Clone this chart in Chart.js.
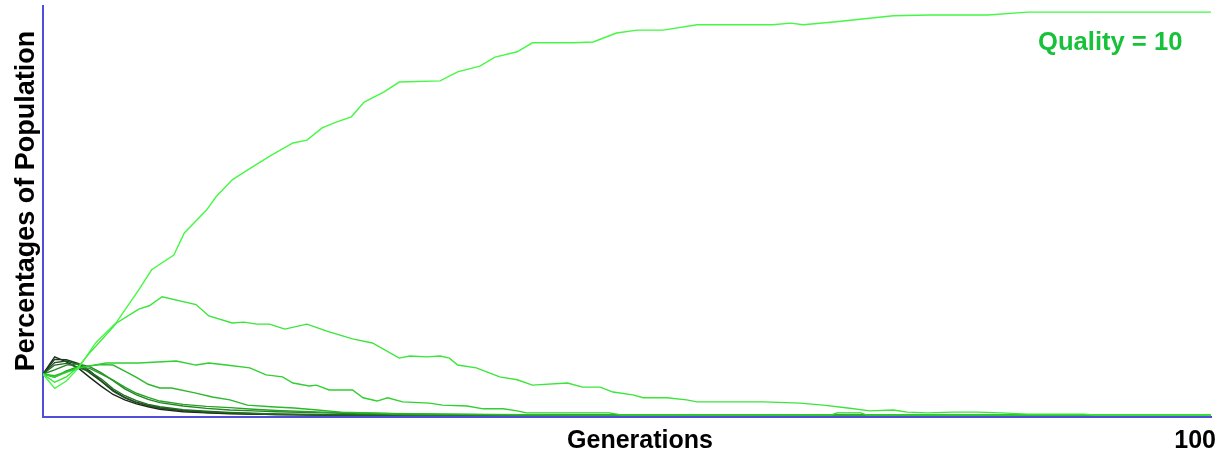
<!DOCTYPE html>
<html>
<head>
<meta charset="utf-8">
<title>Quality = 10</title>
<script src="https://cdn.jsdelivr.net/npm/chart.js@4/dist/chart.umd.min.js"></script>
<style>
  html, body { margin: 0; padding: 0; background: #fff; }
  #wrap { width: 1223px; height: 455px; position: relative; }
</style>
</head>
<body>
<div id="wrap"><canvas id="popChart"></canvas></div>
<script>
// === DATA (percent of population per quality, by generation) ===
const q1Gens = [0, 1, 2, 3, 4, 5, 6, 7, 8, 9, 10, 12, 14, 16, 18, 20, 24, 100];
const q1Vals = [10, 14.2, 13, 11.5, 9.2, 7, 5, 3.7, 2.7, 2, 1.4, 0.8, 0.5, 0.3, 0.2, 0.1, 0, 0];
const q2Gens = [0, 1, 2, 3, 4, 5, 6, 7, 8, 9, 10, 12, 14, 16, 18, 20, 25, 100];
const q2Vals = [10, 13.6, 13.5, 12.6, 10.8, 8.3, 6, 4.3, 3.1, 2.3, 1.7, 1.0, 0.6, 0.4, 0.2, 0.1, 0, 0];
const q3Gens = [0, 1, 2, 3, 4, 5, 6, 7, 8, 9, 10, 12, 14, 16, 18, 20, 26, 100];
const q3Vals = [10, 12.8, 13.2, 12.3, 10.3, 8.2, 5.8, 4.2, 3.0, 2.3, 1.7, 1.1, 0.7, 0.5, 0.3, 0.2, 0, 0];
const q4Gens = [0, 1, 2, 3, 4, 5, 6, 7, 8, 9, 10, 12, 14, 16, 18, 20, 28, 100];
const q4Vals = [10, 12.2, 12.6, 11.6, 10.6, 8.8, 6.4, 4.7, 3.5, 2.6, 2.0, 1.3, 0.9, 0.6, 0.4, 0.2, 0, 0];
const q5Gens = [0, 1, 2, 3, 4, 5, 6, 7, 8, 9, 10, 12, 14, 16, 18, 20, 24, 28, 32, 100];
const q5Vals = [10, 11, 12.2, 12.5, 11.8, 10.3, 8.4, 6.4, 4.9, 3.8, 3.0, 2.2, 1.6, 1.2, 1.0, 0.8, 0.5, 0.2, 0, 0];
const q6Gens = [0, 1, 2, 3, 4, 5, 6, 7, 8, 9, 10, 12, 14, 16, 18, 20, 24, 28, 34, 40, 100];
const q6Vals = [10, 9.2, 10.8, 11.8, 11.4, 10, 8.5, 6.8, 5.3, 4.3, 3.4, 2.6, 2.1, 1.8, 1.4, 1.1, 0.7, 0.4, 0.2, 0, 0];
const q7Gens = [0, 1, 2, 3, 4, 5, 6, 7, 8, 9, 10, 11, 13, 14.5, 16, 17.5, 19.5, 21.5, 23.5, 25.5, 28, 30, 35, 45, 100];
const q7Vals = [10, 9.6, 10.6, 11.5, 12, 12.3, 12.2, 10.7, 9.2, 7.5, 6.6, 6.6, 5.4, 4.4, 3.7, 2.4, 2.0, 1.7, 1.2, 0.7, 0.5, 0.3, 0.2, 0, 0];
const q8Gens = [0, 1, 2, 3.4, 5.4, 8.2, 11.4, 13.1, 14.2, 15.7, 17.7, 19.1, 20.5, 21.4, 22.8, 23.4, 24.5, 26.5, 27.4, 28.6, 29.5, 30.8, 33.1, 34.2, 36.3, 37.7, 39.4, 40.6, 41.4, 48.5, 49.5, 67.5, 68, 70, 70.5, 100];
const q8Vals = [10, 9.3, 10.4, 11.7, 12.7, 12.7, 13.2, 12.2, 12.7, 12.2, 11.5, 9.8, 9.3, 7.8, 7.1, 7.3, 6.1, 6.1, 4.2, 3.4, 4.2, 3.2, 2.9, 2.4, 2.2, 1.5, 1.5, 1.0, 0.5, 0.5, 0, 0, 0.5, 0.5, 0, 0];
const q9Gens = [0, 1, 2, 3, 4, 5, 6.3, 8.2, 9.1, 10.2, 13.1, 14.2, 16.2, 17.2, 18.3, 19.4, 20.7, 22.6, 24.3, 26.5, 28.2, 30.5, 31.4, 32.9, 34, 34.8, 35.5, 37.1, 39.1, 40.6, 41.9, 44.9, 46.2, 47.7, 48.8, 50.5, 51.4, 53.4, 55.1, 56, 61.7, 64.8, 66.8, 68.9, 70.8, 72.8, 74, 75.7, 78, 80, 82, 84.3, 89.1, 90, 100];
const q9Vals = [10, 8, 9.3, 11.7, 15.2, 18.3, 22.5, 25.9, 26.7, 28.9, 27, 24.2, 22.5, 22.7, 22.2, 22.2, 21, 22.2, 20.5, 18.6, 17.6, 13.9, 14.4, 14.2, 14.4, 13.9, 12.2, 11.5, 9.3, 8.6, 7.3, 7.8, 6.8, 6.8, 5.6, 4.9, 4.2, 4.2, 3.7, 3.2, 3.2, 2.9, 2.4, 1.7, 1.0, 1.2, 0.7, 0.5, 0.7, 0.7, 0.5, 0.2, 0.2, 0, 0];
const q10Gens = [0, 1, 2, 3.1, 4.5, 6.3, 8.2, 9.3, 11.2, 12.1, 14, 14.8, 16.2, 17.9, 19.6, 21.4, 22.6, 23.9, 25.1, 26.4, 27.5, 29.2, 30.5, 34, 35.5, 37.4, 38.7, 40.6, 41.9, 45.4, 47.1, 49.1, 50.9, 53.1, 56, 62.5, 64, 65.1, 67.7, 72.8, 76, 80.9, 84.3, 100];
const q10Vals = [10, 6.5, 8.3, 11.7, 17.6, 22.7, 30.6, 35.5, 39.1, 44.5, 50.1, 53.3, 57.5, 60.6, 63.6, 66.5, 67.2, 70.2, 71.6, 72.9, 76.5, 79, 81.4, 81.7, 83.9, 85.3, 87.5, 88.8, 91, 91, 91.2, 93.4, 94.1, 94.1, 95.4, 95.4, 95.8, 95.4, 96.1, 97.6, 97.8, 97.8, 98.5, 98.5];

const qualityLabels = ['Quality = 1', 'Quality = 2', 'Quality = 3', 'Quality = 4', 'Quality = 5',
                       'Quality = 6', 'Quality = 7', 'Quality = 8', 'Quality = 9', 'Quality = 10'];
const gensBySeries = [q1Gens, q2Gens, q3Gens, q4Gens, q5Gens, q6Gens, q7Gens, q8Gens, q9Gens, q10Gens];
const valsBySeries = [q1Vals, q2Vals, q3Vals, q4Vals, q5Vals, q6Vals, q7Vals, q8Vals, q9Vals, q10Vals];

// black -> bright green as quality rises
const LINE_COLORS = ['#1c261c', '#1e3a1e', '#1f521f', '#216b21', '#248524', '#279f27', '#2bb82b', '#30d030', '#3ae63a', '#44f844'];
const AXIS_BLUE = '#4f4fdc';
const FONT = '"Liberation Sans", Arial, sans-serif';

// highest quality drawn last (on top) -> list it first
const datasets = [];
for (let i = 9; i >= 0; i--) {
    datasets.push({
        label: qualityLabels[i],
        data: gensBySeries[i].map((g, k) => ({ x: g, y: valsBySeries[i][k] })),
        borderColor: LINE_COLORS[i],
        borderWidth: 1.4,
        pointRadius: 0,
        tension: 0,
        fill: false
    });
}

const textPlugin = {
    id: 'chartText',
    afterDraw(chart) {
        const ctx = chart.ctx;
        ctx.save();
        ctx.fillStyle = '#000';
        ctx.font = 'bold 25px ' + FONT;
        ctx.textBaseline = 'alphabetic';
        ctx.textAlign = 'center';
        ctx.fillText('Generations', 640, 448);
        ctx.textAlign = 'right';
        ctx.fillText('100', 1216, 448);

        ctx.save();
        ctx.translate(34, 201);
        ctx.rotate(-Math.PI / 2);
        ctx.textAlign = 'center';
        ctx.font = 'bold 27px ' + FONT;
        ctx.fillText('Percentages of Population', 0, 0);
        ctx.restore();

        ctx.fillStyle = '#17c23a';
        ctx.textAlign = 'left';
        ctx.font = 'bold 25.6px ' + FONT;
        ctx.fillText('Quality = 10', 1038, 50);
        ctx.restore();
    }
};

new Chart(document.getElementById('popChart').getContext('2d'), {
    type: 'line',
    data: { datasets },
    options: {
        responsive: true, maintainAspectRatio: false, animation: false, events: [],
        layout: { padding: { left: 43, right: 12, top: 6, bottom: 38 } },
        plugins: { legend: { display: false }, tooltip: { enabled: false } },
        scales: {
            x: {
                type: 'linear', min: 0, max: 100,
                grid: { display: false, drawTicks: false },
                ticks: { display: false },
                border: { display: true, color: AXIS_BLUE, width: 2 }
            },
            y: {
                type: 'linear', min: -0.5, max: 100,
                grid: { display: false, drawTicks: false },
                ticks: { display: false },
                border: { display: true, color: AXIS_BLUE, width: 2 }
            }
        }
    },
    plugins: [textPlugin]
});
</script>
</body>
</html>
